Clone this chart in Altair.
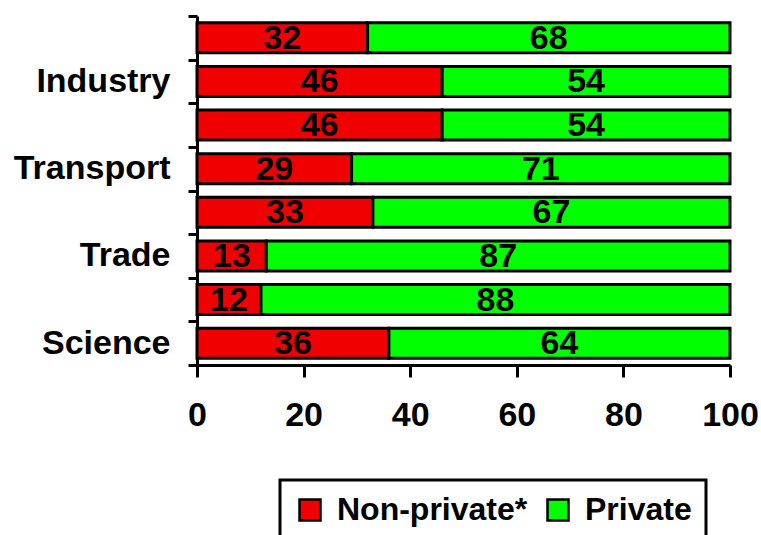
import altair as alt
import pandas as pd

rows = [0, 1, 2, 3, 4, 5, 6, 7]
row_labels = ["", "Industry", "", "Transport", "", "Trade", "", "Science"]
non_private = [32, 46, 46, 29, 33, 13, 12, 36]
private = [68, 54, 54, 71, 67, 87, 88, 64]
series = ["Non-private*", "Private"]
colors = ["#f00000", "#00ff00"]
x_ticks = [0, 20, 40, 60, 80, 100]

records = []
for r, lab, a, b in zip(rows, row_labels, non_private, private):
    records.append({"row": r, "label": lab, "series": series[0], "value": a, "order": 0})
    records.append({"row": r, "label": lab, "series": series[1], "value": b, "order": 1})
df = pd.DataFrame(records)

FONT = "Liberation Sans"
label_expr = "[" + ",".join("'" + l + "'" for l in row_labels) + "][datum.value]"

base = alt.Chart(df).transform_stack(
    stack="value", groupby=["row"], as_=["x0", "x1"], sort=[alt.SortField("order")]
).transform_calculate(mid="(datum.x0 + datum.x1) / 2")

y_enc = alt.Y(
    "row:O",
    scale=alt.Scale(paddingInner=0, paddingOuter=0),
    axis=alt.Axis(title=None, tickBand="extent", tickSize=9, labelPadding=18,
                  labelExpr=label_expr, labelFontSize=34),
)

bars = base.mark_bar(size=30, stroke="black", strokeWidth=3).encode(
    x=alt.X("x0:Q", scale=alt.Scale(domain=[0, 100], nice=False),
            axis=alt.Axis(title=None, values=x_ticks, tickSize=12, labelPadding=21,
                          labelFlush=False, labelFontSize=34)),
    x2="x1:Q",
    y=y_enc,
    color=alt.Color(
        "series:N",
        scale=alt.Scale(domain=series, range=colors),
        legend=alt.Legend(
            title=None, orient="none", legendX=83, legendY=464, direction="horizontal",
            strokeColor="black", padding=14, symbolType="square", symbolSize=441,
            symbolStrokeColor="black", symbolStrokeWidth=2.5, symbolOpacity=1,
            labelFont=FONT, labelFontSize=32, labelFontWeight="bold", labelColor="black",
            labelOffset=11, columnPadding=14, labelLimit=0,
        ),
    ),
)

texts = base.mark_text(font=FONT, fontSize=34, fontWeight="bold", color="black",
                       baseline="middle", align="center", dy=1).encode(
    x="mid:Q",
    y=y_enc,
    text="value:Q",
)

chart = alt.layer(bars, texts).properties(
    width=533, height=349,
    autosize=alt.AutoSizeParams(type="none"),
    padding={"left": 197, "top": 16, "right": 31, "bottom": 170},
).configure_view(stroke=None).configure_axis(
    grid=False, domainColor="black", domainWidth=3, tickColor="black", tickWidth=3,
    labelFont=FONT, labelFontSize=34, labelFontWeight="bold", labelColor="black",
).configure_legend(strokeWidth=3)

chart.save("out.html", embed_options={"renderer": "svg", "actions": False})
